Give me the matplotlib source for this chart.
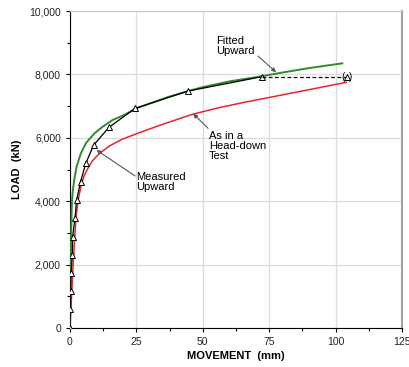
import matplotlib.pyplot as plt
from matplotlib.ticker import MultipleLocator, FuncFormatter

plt.rcParams['font.family'] = ['Liberation Sans', 'DejaVu Sans']

# measured upward load-movement (triangles)
meas_x = [0, 0.2, 0.3, 0.4, 0.9, 1.0, 1.9, 2.5, 4.0, 6.0, 8.9, 14.7, 24.5, 44.5, 72.2]
meas_y = [0, 610, 1160, 1740, 2310, 2880, 3460, 4030, 4620, 5200, 5770, 6330, 6930, 7476, 7927]

# last point held at same load (dashed)
last_x = [72.2, 104.2]
last_y = [7927, 7927]

# fitted upward curve
fit_x = [0, 0.1, 0.25, 0.45, 0.75, 1.1, 1.6, 2.5, 4.1, 6.0, 9.2, 12.3, 16, 20.4, 25, 30, 37,
         44.5, 50, 60, 72, 80, 90, 102.5]
fit_y = [0, 1000, 2000, 3000, 4000, 4350, 4670, 5090, 5510, 5830, 6140, 6350, 6560, 6720, 6930,
         7080, 7290, 7476, 7600, 7780, 7940, 8060, 8200, 8350]

# as in a head-down test
hd_x = [0, 0.6, 1.2, 1.9, 2.3, 3.0, 4.2, 5.3, 6.5, 8.5, 11, 14.8, 19.5, 26, 35, 46, 55, 65, 76,
        90, 104]
hd_y = [0, 1000, 2000, 3000, 3500, 4000, 4500, 4800, 5000, 5280, 5500, 5740, 5950, 6160, 6430,
        6740, 6930, 7110, 7290, 7520, 7750]

fig = plt.figure(figsize=(4.09, 3.67), dpi=100)
ax = fig.add_axes([0.171, 0.106, 0.812, 0.864])

ax.plot(hd_x, hd_y, color='#e8262a', lw=1.1, zorder=3)
ax.plot(fit_x, fit_y, color='#2e8b2e', lw=1.4, zorder=3)
ax.plot(meas_x, meas_y, color='black', lw=0.9, marker='^', ms=4.5, mfc='white', mec='black',
        mew=0.7, zorder=4)
ax.plot(last_x, last_y, color='black', lw=0.9, ls=(0, (3, 2)), zorder=4)
ax.plot([last_x[1]], [last_y[1]], marker='^', ms=4.5, mfc='white', mec='black', mew=0.7, zorder=5)
ax.text(last_x[1] - 1.6, last_y[1], '(', ha='center', va='center', fontsize=7)
ax.text(last_x[1] + 1.6, last_y[1], ')', ha='center', va='center', fontsize=7)

ax.set_xlim(0, 125)
ax.set_ylim(0, 10000)
ax.xaxis.set_major_locator(MultipleLocator(25))
ax.xaxis.set_minor_locator(MultipleLocator(12.5))
ax.yaxis.set_major_locator(MultipleLocator(2000))
ax.yaxis.set_minor_locator(MultipleLocator(1000))
ax.yaxis.set_major_formatter(FuncFormatter(lambda v, p: f'{int(v):,}'))
ax.grid(True, which='major', color='#dcdcdc', lw=0.9)
ax.set_axisbelow(True)
ax.tick_params(which='both', direction='out', length=3, width=0.8, labelsize=7.5, colors='black',
               labelcolor='#222222')
ax.tick_params(which='minor', length=2)
ax.spines['top'].set_color('#c8c8c8')
ax.spines['right'].set_color('#a0a0a0')
ax.spines['right'].set_linewidth(1.5)

ax.set_xlabel('MOVEMENT  (mm)', fontsize=8, fontweight='bold', labelpad=3)
ax.set_ylabel('LOAD  (kN)', fontsize=8, fontweight='bold', labelpad=5)

arrow = dict(arrowstyle='-|>', color='#555555', lw=0.8, mutation_scale=6,
             shrinkA=0, shrinkB=0)
ax.text(55.0, 8900, 'Fitted\nUpward', fontsize=8, ha='left', va='center', linespacing=1.0)
ax.annotate('', xy=(77.6, 8070), xytext=(70.8, 8580), arrowprops=arrow)
ax.text(52.3, 5750, 'As in a\nHead-down\nTest', fontsize=8, ha='left', va='center',
        linespacing=1.0)
ax.annotate('', xy=(46.4, 6760), xytext=(52.0, 6300), arrowprops=arrow)
ax.text(24.8, 4600, 'Measured\nUpward', fontsize=8, ha='left', va='center', linespacing=1.0)
ax.annotate('', xy=(10.0, 5615), xytext=(24.5, 4800), arrowprops=arrow)

fig.savefig('out.png', dpi=100)
